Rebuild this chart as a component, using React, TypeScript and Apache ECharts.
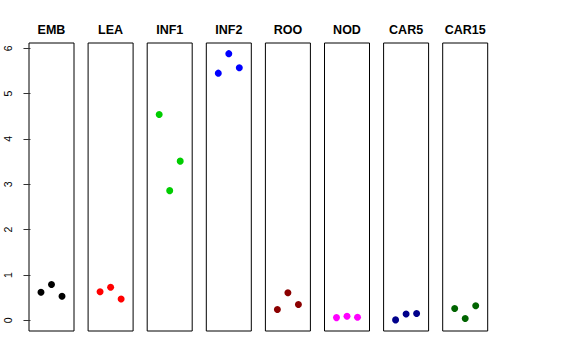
import React, { useEffect, useRef } from "react";
import * as echarts from "echarts";

const categories = ["EMB", "LEA", "INF1", "INF2", "ROO", "NOD", "CAR5", "CAR15"];
const colors = ["#000000", "#FF0000", "#00CD00", "#0000FF", "#8B0000", "#FF00FF", "#00008B", "#006400"];
// values listed left-to-right within each panel
const emb = [0.62, 0.79, 0.53];
const lea = [0.63, 0.73, 0.47];
const inf1 = [4.54, 2.86, 3.51];
const inf2 = [5.45, 5.88, 5.57];
const roo = [0.24, 0.61, 0.35];
const nod = [0.06, 0.09, 0.07];
const car5 = [0.01, 0.14, 0.15];
const car15 = [0.26, 0.04, 0.32];
const seriesValues = [emb, lea, inf1, inf2, roo, nod, car5, car15];
const jitterX = [1, 2, 3];
const yTicks = [0, 1, 2, 3, 4, 5, 6];

export default function App() {
  const ref = useRef<HTMLDivElement>(null);
  useEffect(() => {
    if (!ref.current) return;
    const chart = echarts.init(ref.current, null, { renderer: "svg" });
    const panelLeft = 29;
    const step = 59.1;
    const panelW = 45;
    const top = 43;
    const height = 288;
    const yMin = -0.235;
    const yMax = 6.115;
    const font = "Liberation Sans, Arial, Helvetica, sans-serif";
    const grids = categories.map((_, i) => ({
      left: panelLeft + i * step,
      top,
      width: panelW,
      height,
      show: true,
      borderColor: "#000",
      borderWidth: 1,
      backgroundColor: "transparent",
    }));
    const xAxes = categories.map((_, i) => ({
      type: "value" as const,
      gridIndex: i,
      min: -0.14,
      max: 4.14,
      show: false,
    }));
    const yAxes = categories.map((_, i) =>
      i === 0
        ? {
            type: "value" as const,
            gridIndex: i,
            min: yMin,
            max: yMax,
            axisLine: { show: false },
            splitLine: { show: false },
            axisTick: {
              show: true,
              length: 7,
              customValues: yTicks,
              lineStyle: { color: "#333", width: 1 },
            },
            axisLabel: {
              show: true,
              customValues: yTicks,
              rotate: 90,
              fontSize: 10.5,
              color: "#000",
              fontFamily: font,
              margin: 16,
            },
          }
        : {
            type: "value" as const,
            gridIndex: i,
            min: yMin,
            max: yMax,
            show: false,
          }
    );
    const series = categories.map((c, i) => ({
      type: "scatter" as const,
      name: c,
      xAxisIndex: i,
      yAxisIndex: i,
      symbol: "circle",
      symbolSize: 7,
      itemStyle: { color: colors[i], opacity: 1 },
      data: seriesValues[i].map((v, k) => [jitterX[k], v]),
    }));
    const graphic = categories.map((c, i) => ({
      type: "text" as const,
      x: panelLeft + i * step + panelW / 2,
      y: 30,
      style: {
        text: c,
        align: "center",
        verticalAlign: "middle",
        font: `bold 12.5px ${font}`,
        fill: "#000",
      },
    }));
    chart.setOption({
      animation: false,
      backgroundColor: "#fff",
      grid: grids,
      xAxis: xAxes,
      yAxis: yAxes,
      series,
      graphic,
    });
    return () => chart.dispose();
  }, []);
  return (
    <div
      ref={ref}
      style={{ position: "fixed", left: 0, top: 0, width: 576, height: 360 }}
    />
  );
}
